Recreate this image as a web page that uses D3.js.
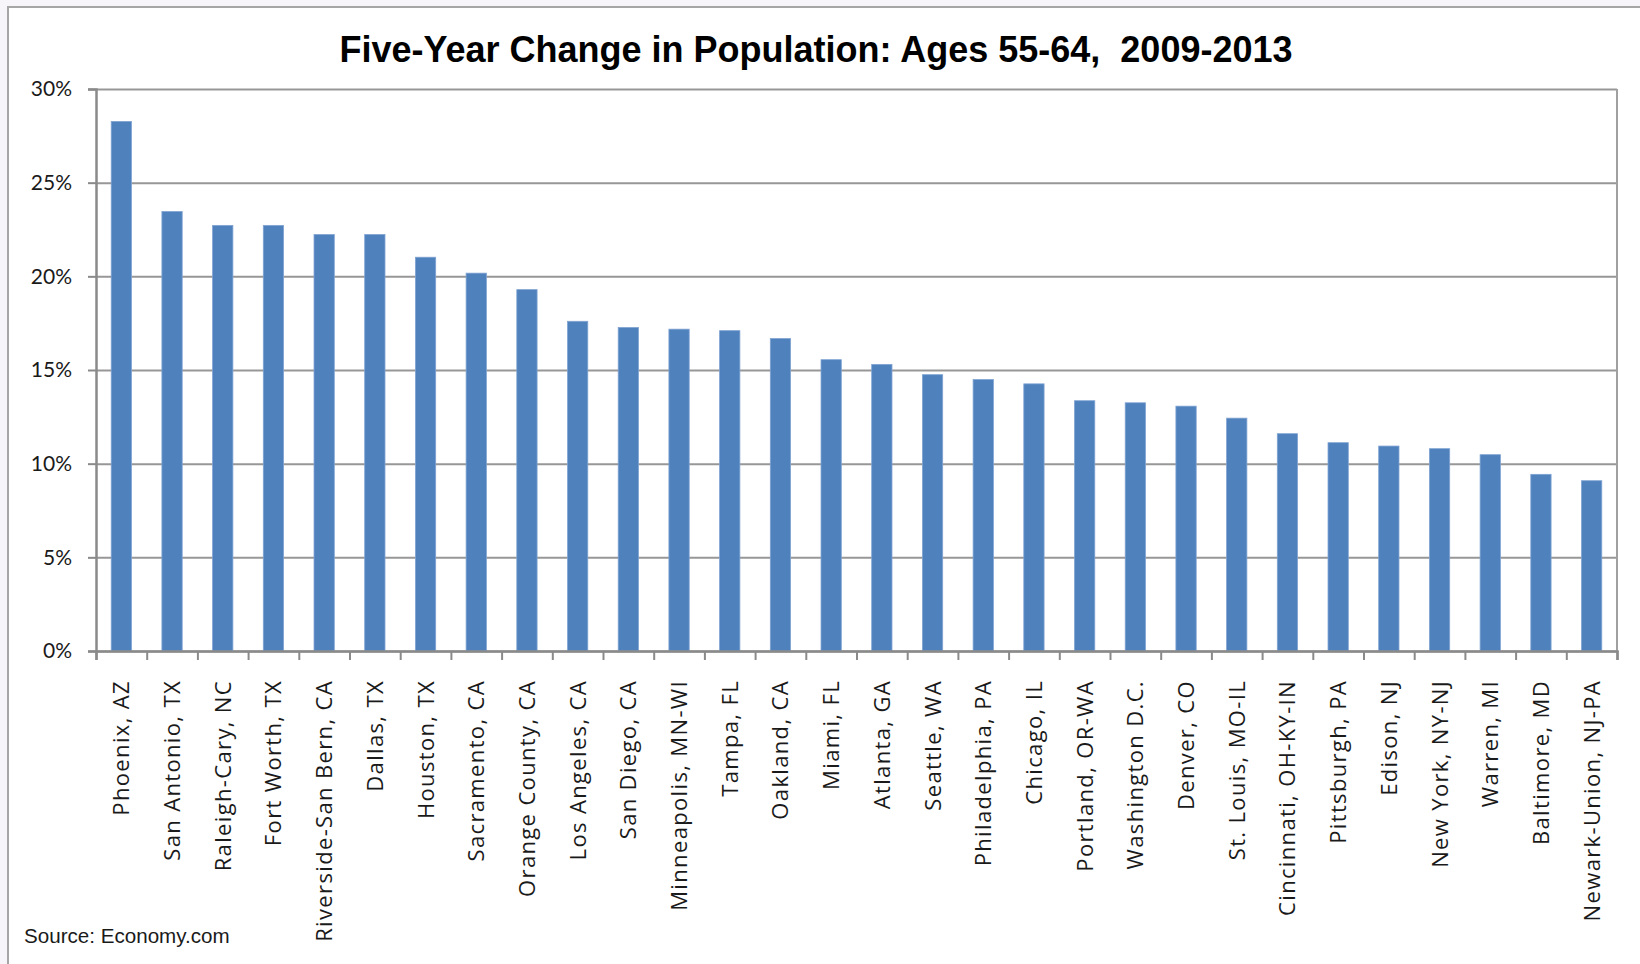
<!DOCTYPE html>
<html>
<head>
<meta charset="utf-8">
<script src="https://cdn.jsdelivr.net/npm/d3@7"></script>
<style>
  html, body { margin: 0; padding: 0; background: #f7f4fa; }
  svg { display: block; }
</style>
</head>
<body>
<div id="app"></div>
<script>
const width = 1640,
  height = 964;

// chart data
const cities = [
  "Phoenix, AZ", "San Antonio, TX", "Raleigh-Cary, NC", "Fort Worth, TX",
  "Riverside-San Bern, CA", "Dallas, TX", "Houston, TX", "Sacramento, CA",
  "Orange County, CA", "Los Angeles, CA", "San Diego, CA", "Minneapolis, MN-WI",
  "Tampa, FL", "Oakland, CA", "Miami, FL", "Atlanta, GA", "Seattle, WA",
  "Philadelphia, PA", "Chicago, IL", "Portland, OR-WA", "Washington D.C.",
  "Denver, CO", "St. Louis, MO-IL", "Cincinnati, OH-KY-IN", "Pittsburgh, PA",
  "Edison, NJ", "New York, NY-NJ", "Warren, MI", "Baltimore, MD",
  "Newark-Union, NJ-PA"
];
const changes = [
  28.27, 23.46, 22.72, 22.72, 22.23, 22.23, 21.02, 20.17, 19.29, 17.6,
  17.27, 17.18, 17.1, 16.68, 15.55, 15.3, 14.75, 14.49, 14.26, 13.36,
  13.25, 13.07, 12.43, 11.6, 11.12, 10.94, 10.8, 10.48, 9.43, 9.09
];
const yTicks = [0, 5, 10, 15, 20, 25, 30];
const title = "Five-Year Change in Population: Ages 55-64,  2009-2013";
const source = "Source: Economy.com";

const margin = { left: 96, right: 1617, top: 89, bottom: 651 };

const svg = d3.select("#app")
  .append("svg")
  .attr("width", width)
  .attr("height", height);

// white chart frame (only top/left edges visible, like the crop)
svg.append("rect")
  .attr("x", 8)
  .attr("y", 7)
  .attr("width", width + 20)
  .attr("height", height + 20)
  .attr("fill", "#fff")
  .attr("stroke", "#a6a6a6")
  .attr("stroke-width", 2);

const x = d3.scaleBand()
  .domain(cities)
  .range([margin.left, margin.right])
  .paddingInner(0.6)
  .paddingOuter(0.3);

const xEdges = d3.scaleLinear()
  .domain([0, cities.length])
  .range([margin.left, margin.right]);

const y = d3.scaleLinear()
  .domain([0, 30])
  .range([margin.bottom, margin.top]);

// gridlines
const grid = svg.append("g")
  .attr("transform", `translate(${margin.left},0)`)
  .call(d3.axisLeft(y).tickValues(yTicks).tickSize(-(margin.right - margin.left)).tickFormat(""));
grid.select(".domain").remove();
grid.selectAll("line").attr("stroke", "#979797").attr("stroke-width", 2);

// right edge of plot area
svg.append("line")
  .attr("x1", margin.right).attr("x2", margin.right)
  .attr("y1", margin.top).attr("y2", margin.bottom)
  .attr("stroke", "#a0a0a0").attr("stroke-width", 2);

// bars
svg.append("g")
  .selectAll("rect")
  .data(changes)
  .join("rect")
  .attr("x", (d, i) => x(cities[i]))
  .attr("y", (d) => y(d))
  .attr("width", x.bandwidth())
  .attr("height", (d) => y(0) - y(d))
  .attr("fill", "#4f81bd")
  .attr("stroke", "#7fa3d2")
  .attr("stroke-width", 0.8);

// y axis
const yAxis = svg.append("g")
  .attr("transform", `translate(${margin.left},0)`)
  .call(d3.axisLeft(y).tickValues(yTicks).tickSize(8).tickPadding(16).tickFormat((d) => d + "%"));
yAxis.select(".domain").attr("stroke", "#8a8a8a").attr("stroke-width", 2.5);
yAxis.selectAll("line").attr("stroke", "#8a8a8a").attr("stroke-width", 2);
yAxis.selectAll("text")
  .attr("fill", "#1a1a1a")
  .style("font-family", "Lato, 'Open Sans', sans-serif")
  .style("font-size", "21px");

// x axis: ticks at category edges
const xAxis = svg.append("g")
  .attr("transform", `translate(0,${margin.bottom})`)
  .call(d3.axisBottom(xEdges).tickValues(d3.range(cities.length + 1)).tickSize(9).tickFormat(""));
xAxis.select(".domain").attr("stroke", "#8a8a8a").attr("stroke-width", 2.5);
xAxis.selectAll("line").attr("stroke", "#8a8a8a").attr("stroke-width", 2);

// category labels, rotated
svg.append("g")
  .selectAll("text")
  .data(cities)
  .join("text")
  .attr("transform", (d) => `translate(${x(d) + x.bandwidth() / 2 + 8},680) rotate(-90)`)
  .attr("text-anchor", "end")
  .attr("fill", "#1a1a1a")
  .style("font-family", "'Open Sans', sans-serif")
  .style("font-size", "22px")
  .style("letter-spacing", "1.35px")
  .text((d) => d);

// title
svg.append("text")
  .attr("x", 816)
  .attr("y", 62)
  .attr("text-anchor", "middle")
  .attr("fill", "#000")
  .style("font-family", "'Liberation Sans', Arial, sans-serif")
  .style("font-weight", "bold")
  .style("font-size", "36px")
  .style("white-space", "pre")
  .text(title);

// source note
svg.append("text")
  .attr("x", 24)
  .attr("y", 943)
  .attr("fill", "#1a1a1a")
  .style("font-family", "'Liberation Sans', Arial, sans-serif")
  .style("font-size", "20.6px")
  .text(source);
</script>
</body>
</html>
